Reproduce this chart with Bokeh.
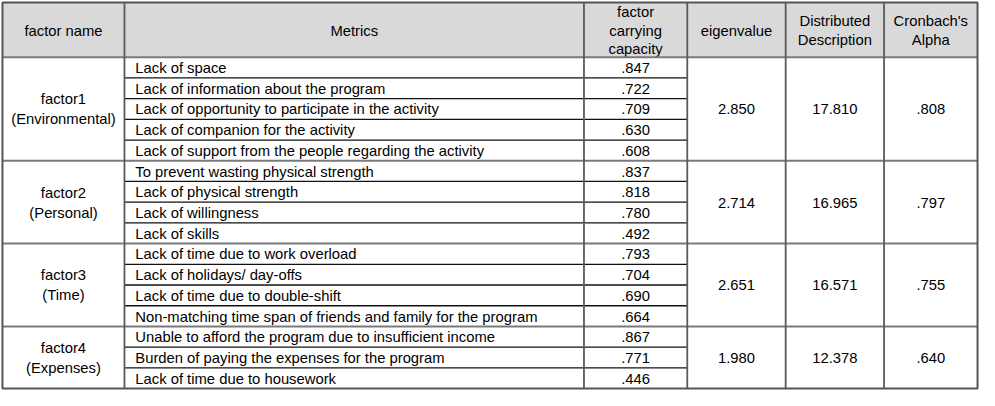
from bokeh.plotting import figure
from bokeh.models import Range1d
from bokeh.embed import file_html
from bokeh.resources import INLINE

# ---------------- data ----------------
headers = ["factor name", "Metrics", "factor\ncarrying\ncapacity", "eigenvalue",
           "Distributed\nDescription", "Cronbach's\nAlpha"]
factor_names = ["factor1\n(Environmental)", "factor2\n(Personal)", "factor3\n(Time)", "factor4\n(Expenses)"]
metrics_f1 = ["Lack of space", "Lack of information about the program",
              "Lack of opportunity to participate in the activity",
              "Lack of companion for the activity",
              "Lack of support from the people regarding the activity"]
metrics_f2 = ["To prevent wasting physical strength", "Lack of physical strength",
              "Lack of willingness", "Lack of skills"]
metrics_f3 = ["Lack of time due to work overload", "Lack of holidays/ day-offs",
              "Lack of time due to double-shift",
              "Non-matching time span of friends and family for the program"]
metrics_f4 = ["Unable to afford the program due to insufficient income",
              "Burden of paying the expenses for the program",
              "Lack of time due to housework"]
loadings_f1 = [".847", ".722", ".709", ".630", ".608"]
loadings_f2 = [".837", ".818", ".780", ".492"]
loadings_f3 = [".793", ".704", ".690", ".664"]
loadings_f4 = [".867", ".771", ".446"]
eigenvalues = ["2.850", "2.714", "2.651", "1.980"]
distributed = ["17.810", "16.965", "16.571", "12.378"]
alphas = [".808", ".797", ".755", ".640"]

metrics_groups = [metrics_f1, metrics_f2, metrics_f3, metrics_f4]
loading_groups = [loadings_f1, loadings_f2, loadings_f3, loadings_f4]

# ---------------- layout (in reference pixel units) ----------------
W, H = 995, 406
col_edges = [2, 126, 593, 698, 798, 898, 993]
top, head_bottom, bottom = 2, 59, 404
n_rows = sum(len(g) for g in metrics_groups)
row_h = (bottom - head_bottom) / n_rows

FONT = "Liberation Sans"
FS = "14.8px"

p = figure(width=979, height=390, output_backend="svg", toolbar_location=None,
           x_range=Range1d(0, W), y_range=Range1d(H, 0))
p.axis.visible = False
p.grid.visible = False
p.outline_line_color = None
p.min_border = 0
p.background_fill_color = "white"
p.border_fill_color = "white"

# header background
p.quad(left=[col_edges[0]], right=[col_edges[-1]], top=[top], bottom=[head_bottom],
       fill_color="#d9d9d9", line_color=None)

# header texts
hx = [(col_edges[i] + col_edges[i + 1]) / 2 for i in range(len(headers))]
p.text(x=hx, y=[(top + head_bottom) / 2 + 1] * len(headers), text=headers,
       text_align="center", text_baseline="middle", text_font_size=FS,
       text_font={"value": FONT}, text_color="black", text_line_height=1.17)

# body
mx, my, mt = [], [], []
lx, ly, lt = [], [], []
gy = []
inner_y = []
group_y = []
r = 0
for g, (mets, loads) in enumerate(zip(metrics_groups, loading_groups)):
    y0 = head_bottom + r * row_h
    for i, (m, l) in enumerate(zip(mets, loads)):
        yc = head_bottom + (r + 0.5) * row_h
        mx.append(col_edges[1] + 11); my.append(yc + 0.5); mt.append(m)
        lx.append((col_edges[2] + col_edges[3]) / 2); ly.append(yc + 0.5); lt.append(l)
        if i > 0:
            inner_y.append(head_bottom + r * row_h)
        r += 1
    y1 = head_bottom + r * row_h
    gy.append((y0 + y1) / 2)
    if g > 0:
        group_y.append(y0)

p.text(x=mx, y=my, text=mt, text_align="left", text_baseline="middle",
       text_font_size=FS, text_font={"value": FONT}, text_color="black")
p.text(x=lx, y=ly, text=lt, text_align="center", text_baseline="middle",
       text_font_size=FS, text_font={"value": FONT}, text_color="black")

for ci, vals, lh in [(0, factor_names, 1.25), (3, eigenvalues, 1.2),
                     (4, distributed, 1.2), (5, alphas, 1.2)]:
    cx = (col_edges[ci] + col_edges[ci + 1]) / 2
    p.text(x=[cx] * len(vals), y=[v + 0.5 for v in gy], text=vals, text_align="center",
           text_baseline="middle", text_font_size=FS, text_font={"value": FONT},
           text_color="black", text_line_height=lh)

# inner row lines (metrics + loading columns)
p.segment(x0=[col_edges[1]] * len(inner_y), x1=[col_edges[3]] * len(inner_y),
          y0=inner_y, y1=inner_y, line_color="#111111", line_width=1.3)
# group separators and header bottom
sep = [head_bottom] + group_y
p.segment(x0=[col_edges[0]] * len(sep), x1=[col_edges[-1]] * len(sep),
          y0=sep, y1=sep, line_color="#7a7a7a", line_width=2)
# vertical column lines
vx = col_edges[1:-1]
p.segment(x0=vx, x1=vx, y0=[top] * len(vx), y1=[bottom] * len(vx),
          line_color="#5a5a5a", line_width=1.8)
# outer border
p.quad(left=[col_edges[0]], right=[col_edges[-1]], top=[top], bottom=[bottom],
       fill_color=None, line_color="#555555", line_width=2)

open("out.html", "w").write(file_html(p, INLINE))
